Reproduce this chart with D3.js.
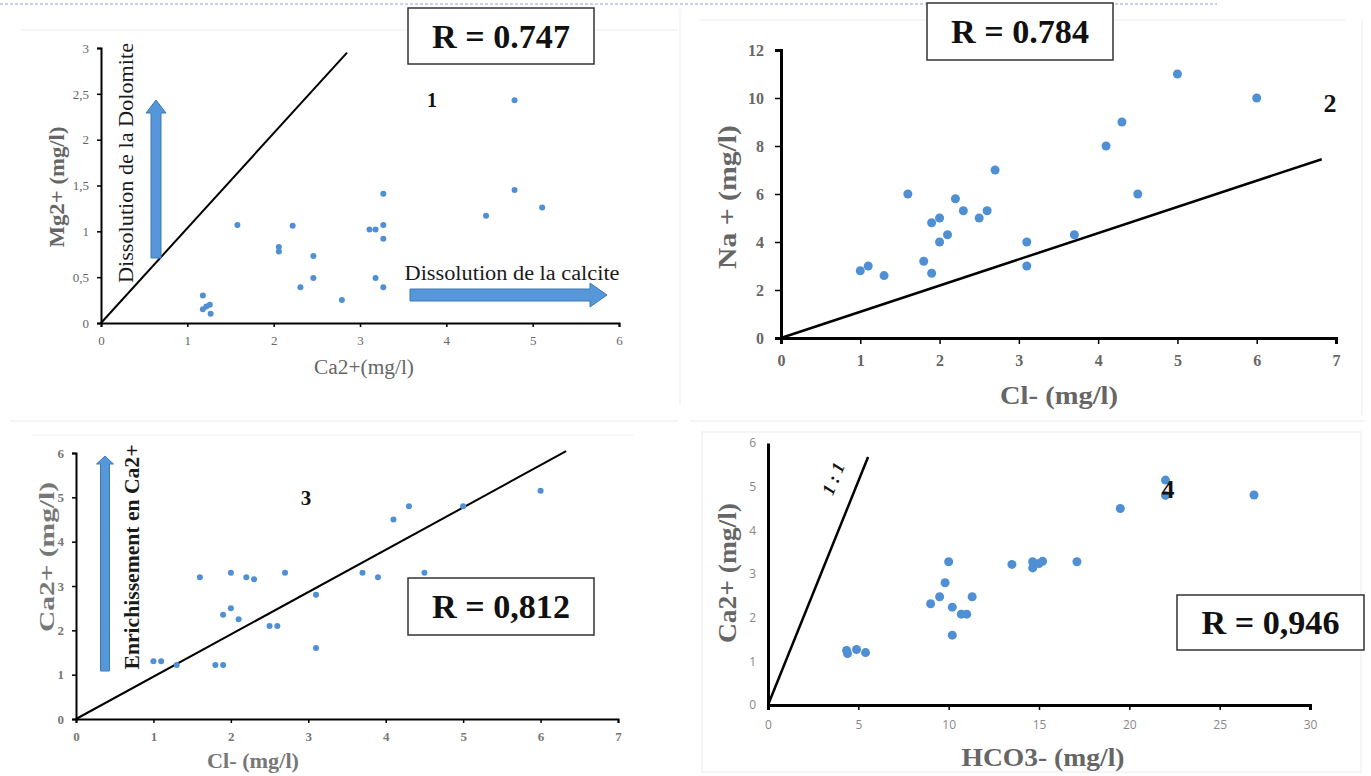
<!DOCTYPE html>
<html lang="fr">
<head>
<meta charset="UTF-8">
<title>Relations ioniques</title>
<script src="https://d3js.org/d3.v7.min.js"></script>
<style>
  body { margin: 0; background: #fff; }
  svg { display: block; }
</style>
</head>
<body>
<svg id="chart" width="1371" height="776"></svg>
<script>
// panel 1 : Mg2+ against Ca2+
var ca1 = [1.18, 1.18, 1.22, 1.26, 1.27, 1.58, 2.06, 2.06, 2.22, 2.31, 2.46, 2.46, 2.79, 3.11, 3.18, 3.27, 3.27, 3.27, 3.18, 3.27, 4.46, 4.79, 4.79, 5.11];
var mg1 = [0.30, 0.15, 0.18, 0.20, 0.10, 1.07, 0.83, 0.78, 1.06, 0.39, 0.73, 0.49, 0.25, 1.02, 1.02, 1.07, 0.92, 1.41, 0.49, 0.39, 1.17, 2.43, 1.45, 1.26];

// panel 2 : Na+ against Cl-
var cl2 = [1.0, 1.1, 1.3, 1.6, 1.8, 1.9, 1.9, 2.0, 2.0, 2.1, 2.2, 2.3, 2.5, 2.6, 2.7, 3.1, 3.1, 3.7, 4.1, 4.3, 4.5, 5.0, 6.0];
var na2 = [2.8, 3.0, 2.6, 6.0, 3.2, 2.7, 4.8, 5.0, 4.0, 4.3, 5.8, 5.3, 5.0, 5.3, 7.0, 4.0, 3.0, 4.3, 8.0, 9.0, 6.0, 11.0, 10.0];

// panel 3 : Ca2+ against Cl-
var cl3 = [1.0, 1.1, 1.3, 1.6, 1.8, 1.9, 1.9, 2.0, 2.0, 2.1, 2.2, 2.3, 2.5, 2.6, 2.7, 3.1, 3.1, 3.7, 3.9, 4.1, 4.3, 4.5, 5.0, 6.0];
var ca3 = [1.3, 1.3, 1.22, 3.2, 1.22, 1.22, 2.35, 3.3, 2.5, 2.25, 3.2, 3.15, 2.1, 2.1, 3.3, 2.8, 1.6, 3.3, 3.2, 4.5, 4.8, 3.3, 4.8, 5.15];

// panel 4 : Ca2+ against HCO3-
var hco4 = [4.35, 4.4, 4.9, 5.4, 9.0, 9.5, 9.8, 10.0, 10.2, 10.2, 10.7, 11.0, 11.3, 13.5, 14.65, 14.65, 15.0, 15.2, 17.1, 19.5, 22.0, 22.0, 26.9];
var ca4 = [1.25, 1.18, 1.27, 1.2, 2.32, 2.48, 2.8, 3.28, 2.24, 1.6, 2.08, 2.08, 2.48, 3.22, 3.14, 3.28, 3.24, 3.29, 3.28, 4.5, 5.15, 4.8, 4.81];

var ticksX1 = [0, 1, 2, 3, 4, 5, 6], ticksY1 = [0, 0.5, 1, 1.5, 2, 2.5, 3];
var ticksX2 = [0, 1, 2, 3, 4, 5, 6, 7], ticksY2 = [0, 2, 4, 6, 8, 10, 12];
var ticksX3 = [0, 1, 2, 3, 4, 5, 6, 7], ticksY3 = [0, 1, 2, 3, 4, 5, 6];
var ticksX4 = [0, 5, 10, 15, 20, 25, 30], ticksY4 = [0, 1, 2, 3, 4, 5, 6];

// reference lines drawn on each plot
var line1 = [[0, 0], [2.85, 2.95]];
var line2 = [[0, 0], [6.82, 7.45]];
var line3 = [[0, 0], [6.33, 6.04]];
var line4 = [[0, 0], [5.54, 5.68]];

var rLabels = ["R = 0.747", "R = 0.784", "R = 0,812", "R = 0,946"];

var svg = d3.select("#chart");
var blue = "#4f8fd3";
var serif = "'Liberation Serif', 'Times New Roman', serif";
var comma = function(d) { return String(d).replace(".", ","); };

// faint frames of the pasted figures
var frame = svg.append("g").attr("stroke", "#ececec").attr("fill", "none");
frame.append("line").attr("x1", 20).attr("y1", 30).attr("x2", 678).attr("y2", 30);
frame.append("line").attr("x1", 680).attr("y1", 8).attr("x2", 680).attr("y2", 405);
frame.append("line").attr("x1", 700).attr("y1", 20).attr("x2", 1345).attr("y2", 20);
frame.append("line").attr("x1", 1362).attr("y1", 20).attr("x2", 1362).attr("y2", 415);
frame.append("line").attr("x1", 10).attr("y1", 421).attr("x2", 678).attr("y2", 421);
frame.append("line").attr("x1", 32).attr("y1", 435).attr("x2", 633).attr("y2", 435);
frame.append("line").attr("x1", 690).attr("y1", 421).attr("x2", 1365).attr("y2", 421);
frame.append("rect").attr("x", 702).attr("y", 432).attr("width", 659).attr("height", 340);

// dotted rule along the top
svg.append("line").attr("x1", 0).attr("y1", 4).attr("x2", 1217).attr("y2", 4)
  .attr("stroke", "#8fa6c8").attr("stroke-width", 1).attr("stroke-dasharray", "3,2");

function stretch(sel, len) {
  if (len) sel.attr("textLength", len).attr("lengthAdjust", "spacingAndGlyphs");
  return sel;
}

function panel(o) {
  var x = d3.scaleLinear().domain(o.xDomain).range(o.xRange);
  var y = d3.scaleLinear().domain(o.yDomain).range(o.yRange);
  var g = svg.append("g");

  var xa = g.append("g").attr("transform", "translate(0," + y(0) + ")")
    .call(d3.axisBottom(x).tickValues(o.xTicks).tickFormat(o.fmt)
      .tickSizeOuter(0).tickSize(o.tx).tickPadding(o.px));
  var ya = g.append("g").attr("transform", "translate(" + x(0) + ",0)")
    .call(d3.axisLeft(y).tickValues(o.yTicks).tickFormat(o.fmt)
      .tickSizeOuter(0).tickSize(o.ty).tickPadding(o.py));
  [xa, ya].forEach(function(a) {
    a.select(".domain").attr("stroke", "#000").attr("stroke-width", o.axisW);
    a.selectAll(".tick line").attr("stroke", "#000").attr("stroke-width", 1.5);
    a.selectAll(".tick text").attr("fill", o.tickColor).style("font-family", o.tickFont)
      .style("font-size", o.tickSize + "px").style("font-weight", o.tickWeight);
  });

  g.append("line")
    .attr("x1", x(o.line[0][0])).attr("y1", y(o.line[0][1]))
    .attr("x2", x(o.line[1][0])).attr("y2", y(o.line[1][1]))
    .attr("stroke", "#000").attr("stroke-width", o.lineW);

  g.selectAll("circle.pt").data(d3.zip(o.xs, o.ys)).join("circle")
    .attr("class", "pt")
    .attr("cx", function(d) { return x(d[0]); })
    .attr("cy", function(d) { return y(d[1]); })
    .attr("r", o.r).attr("fill", blue);

  // axis titles
  stretch(g.append("text").attr("x", o.xTitle[1]).attr("y", o.xTitle[2])
    .attr("text-anchor", "middle").attr("fill", o.titleColor)
    .style("font-family", serif).style("font-size", o.titleSize + "px")
    .style("font-weight", o.titleWeight).text(o.xTitle[0]), o.xTitle[3]);
  stretch(g.append("text").attr("transform", "translate(" + o.yTitle[1] + "," + o.yTitle[2] + ") rotate(-90)")
    .attr("text-anchor", "middle").attr("dy", "0.35em").attr("fill", o.titleColor)
    .style("font-family", serif).style("font-size", o.titleSize + "px")
    .style("font-weight", o.yTitleWeight || o.titleWeight).text(o.yTitle[0]), o.yTitle[3]);

  // correlation box
  var b = o.box;
  g.append("rect").attr("x", b[0]).attr("y", b[1]).attr("width", b[2]).attr("height", b[3])
    .attr("fill", "#fff").attr("stroke", "#333").attr("stroke-width", 1.5);
  stretch(g.append("text").attr("x", b[0] + b[2] / 2).attr("y", b[1] + b[3] / 2)
    .attr("dy", "0.35em").attr("text-anchor", "middle").attr("fill", "#111")
    .style("font-family", serif).style("font-size", "33px").style("font-weight", "bold")
    .text(o.rText), 138);

  // panel number
  g.append("text").attr("x", o.num[1]).attr("y", o.num[2]).attr("dy", "0.35em")
    .attr("text-anchor", "middle").attr("fill", "#111")
    .style("font-family", serif).style("font-size", o.num[3] + "px").style("font-weight", "bold")
    .text(o.num[0]);
  return g;
}

function arrow(x1, y1, x2, y2, shaft, head, headLen) {
  var dx = x2 - x1, dy = y2 - y1, len = Math.hypot(dx, dy);
  var ux = dx / len, uy = dy / len, nx = -uy, ny = ux;
  var bx = x2 - ux * headLen, by = y2 - uy * headLen;
  var pts = [
    [x1 + nx * shaft / 2, y1 + ny * shaft / 2],
    [bx + nx * shaft / 2, by + ny * shaft / 2],
    [bx + nx * head / 2, by + ny * head / 2],
    [x2, y2],
    [bx - nx * head / 2, by - ny * head / 2],
    [bx - nx * shaft / 2, by - ny * shaft / 2],
    [x1 - nx * shaft / 2, y1 - ny * shaft / 2]
  ];
  svg.append("path").attr("d", d3.line()(pts) + "Z")
    .attr("fill", "#5597d8").attr("stroke", "#3f78b6").attr("stroke-width", 1);
}

function label(txt, x, y, size, weight, rot, len) {
  stretch(svg.append("text").attr("transform", "translate(" + x + "," + y + ")" + (rot ? " rotate(" + rot + ")" : ""))
    .attr("text-anchor", "middle").attr("dy", "0.35em").attr("fill", "#1a1a1a")
    .style("font-family", serif).style("font-size", size + "px").style("font-weight", weight)
    .text(txt), len);
}

// 1
panel({
  xs: ca1, ys: mg1, xDomain: [0, 6], yDomain: [0, 3], xRange: [101, 619], yRange: [323, 48],
  xTicks: ticksX1, yTicks: ticksY1, fmt: comma, tx: 4, px: 9, ty: 4, py: 8, axisW: 2,
  tickColor: "#666", tickFont: serif, tickSize: 13, tickWeight: "normal",
  line: line1, lineW: 2, r: 3,
  xTitle: ["Ca2+(mg/l)", 364, 374, 100], yTitle: ["Mg2+ (mg/l)", 57, 187, 121],
  titleColor: "#666", titleSize: 20, titleWeight: "normal", yTitleWeight: "bold",
  box: [408, 8, 186, 56], rText: rLabels[0], num: ["1", 432, 100, 20]
});
arrow(156, 258, 156, 100, 10, 20, 13);
arrow(410, 295, 607, 295, 12, 24, 17);
label("Dissolution de la Dolomite", 126, 163, 21, "normal", -90, 240);
label("Dissolution de la calcite", 512, 273, 20, "normal", 0, 215);

// 2
panel({
  xs: cl2, ys: na2, xDomain: [0, 7], yDomain: [0, 12], xRange: [781, 1336], yRange: [338, 50],
  xTicks: ticksX2, yTicks: ticksY2, fmt: String, tx: 6, px: 11, ty: 6, py: 11, axisW: 3,
  tickColor: "#666", tickFont: serif, tickSize: 16, tickWeight: "bold",
  line: line2, lineW: 2.5, r: 4.5,
  xTitle: ["Cl- (mg/l)", 1059, 404, 118], yTitle: ["Na + (mg/l)", 727, 197, 144],
  titleColor: "#666", titleSize: 25, titleWeight: "bold",
  box: [927, 3, 186, 57], rText: rLabels[1], num: ["2", 1330, 103, 26]
});

// 3
panel({
  xs: cl3, ys: ca3, xDomain: [0, 7], yDomain: [0, 6], xRange: [76, 618], yRange: [719, 453],
  xTicks: ticksX3, yTicks: ticksY3, fmt: String, tx: 4, px: 9, ty: 4, py: 8, axisW: 2,
  tickColor: "#777", tickFont: serif, tickSize: 13, tickWeight: "bold",
  line: line3, lineW: 2, r: 3,
  xTitle: ["Cl- (mg/l)", 253, 768, 92], yTitle: ["Ca2+ (mg/l)", 47, 557, 150],
  titleColor: "#777", titleSize: 21, titleWeight: "bold",
  box: [408, 578, 186, 57], rText: rLabels[2], num: ["3", 306, 498, 21]
});
arrow(105, 671, 105, 456, 9, 17, 8);
label("Enrichissement en Ca2+", 132, 557, 21, "bold", -90, 225);

// 4
panel({
  xs: hco4, ys: ca4, xDomain: [0, 30], yDomain: [0, 6], xRange: [768, 1310], yRange: [705, 443],
  xTicks: ticksX4, yTicks: ticksY4, fmt: String, tx: 5, px: 10, ty: 0, py: 12, axisW: 3,
  tickColor: "#888", tickFont: "'Open Sans', 'Liberation Sans', sans-serif", tickSize: 12, tickWeight: "normal",
  line: line4, lineW: 2.5, r: 4.5,
  xTitle: ["HCO3- (mg/l)", 1043, 766, 163], yTitle: ["Ca2+ (mg/l)", 727, 573, 140],
  titleColor: "#666", titleSize: 25, titleWeight: "bold",
  box: [1177, 595, 187, 55], rText: rLabels[3], num: ["4", 1168, 489, 26]
});
svg.append("text").attr("transform", "translate(844,483) rotate(-68)")
  .attr("text-anchor", "middle").attr("dy", "-0.3em").attr("fill", "#111")
  .style("font-family", serif).style("font-size", "18px").style("font-weight", "bold")
  .style("font-style", "italic").text("1 : 1");
</script>
</body>
</html>
